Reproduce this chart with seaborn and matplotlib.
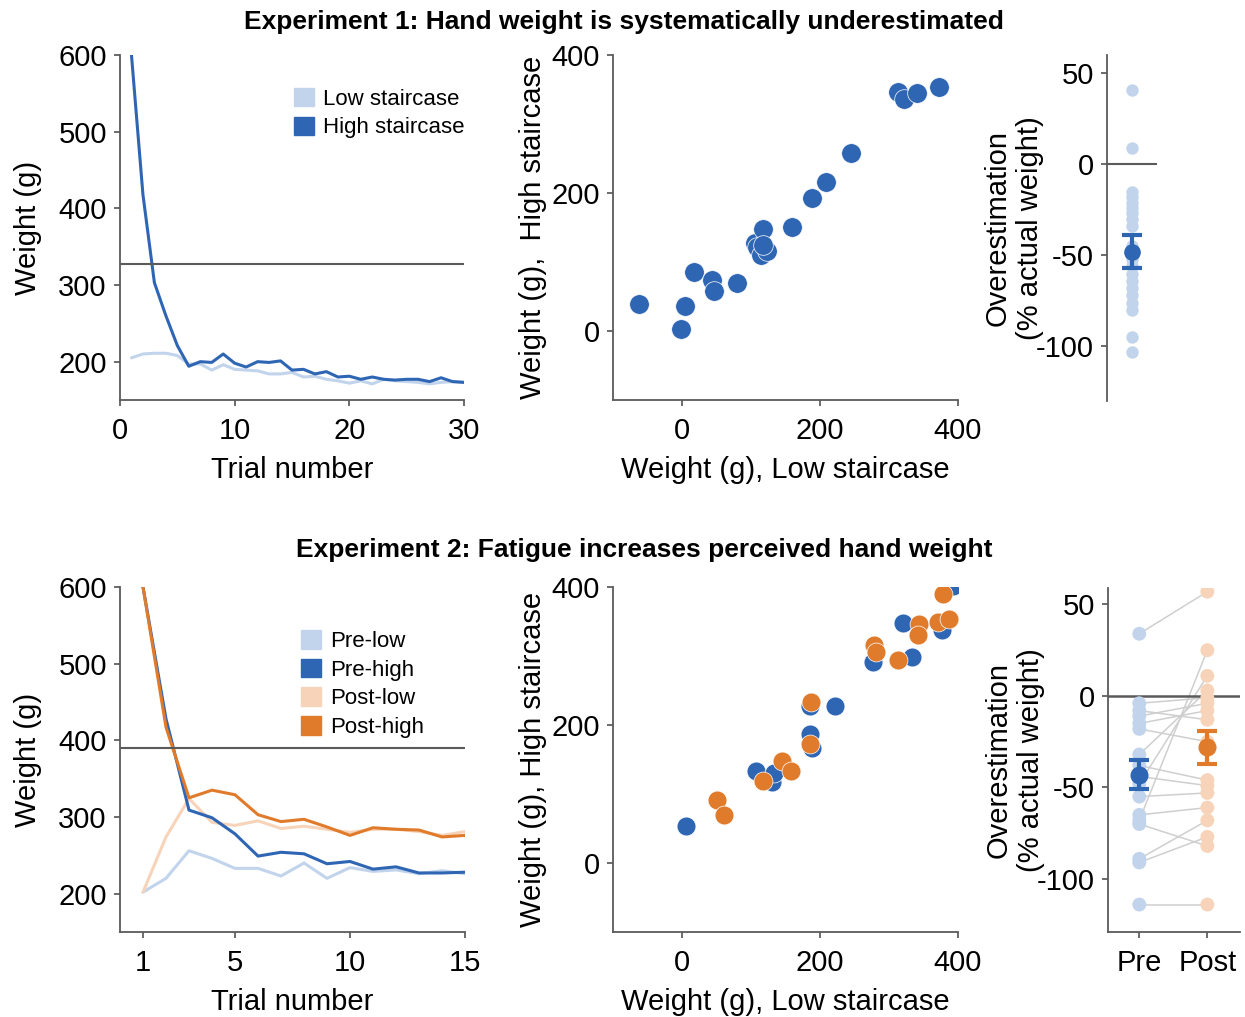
import numpy as np
import pandas as pd
import matplotlib
matplotlib.use('Agg')
import matplotlib.pyplot as plt
import seaborn as sns
from matplotlib.patches import Patch

# colours
dark_blue = '#2f66b4'
light_blue = '#c2d4eb'
dark_orange = '#e07b2c'
light_orange = '#f7d4b9'
grey = '#5a5a5a'

# ---------- Experiment 1 ----------
exp1_trials = list(range(1, 31))
exp1_low = [205, 210, 211, 211, 208, 197, 197, 189, 196, 190, 189, 188, 184, 184, 186,
            180, 181, 177, 175, 172, 175, 171, 177, 175, 174, 173, 171, 173, 174, 173]
exp1_high = [600, 418, 303, 260, 221, 194, 200, 199, 210, 198, 193, 200, 199, 201, 189,
             190, 184, 187, 180, 181, 177, 180, 177, 176, 177, 177, 174, 179, 174, 173]
exp1_actual = 328

exp1_sc_low = [-63, -2, 5, 18, 44, 47, 79, 106, 109, 115, 117, 123, 118, 160, 189, 209,
               245, 313, 322, 340, 373]
exp1_sc_high = [39, 3, 36, 85, 74, 58, 70, 128, 122, 110, 148, 116, 125, 151, 193, 216,
                258, 346, 336, 345, 353]

exp1_over = [41, 9, -15, -18, -21, -24, -27, -30, -34, -45, -52, -56, -60, -64, -68, -72,
             -76, -80, -95, -103]
exp1_over_mean = -48
exp1_over_sem = 9

# ---------- Experiment 2 ----------
exp2_trials = list(range(1, 16))
pre_low = [202, 220, 256, 246, 233, 233, 223, 240, 220, 234, 229, 231, 226, 230, 226]
pre_high = [600, 428, 309, 299, 278, 249, 254, 252, 239, 242, 232, 235, 227, 227, 228]
post_low = [202, 274, 324, 293, 289, 295, 285, 288, 284, 280, 284, 284, 281, 276, 281]
post_high = [600, 417, 325, 335, 329, 303, 294, 297, 287, 276, 286, 284, 283, 274, 276]
exp2_actual = 390

pre_sc_low = [6, 107, 130, 133, 185, 185, 188, 222, 277, 321, 333, 377, 393]
pre_sc_high = [53, 134, 117, 131, 228, 187, 167, 228, 291, 348, 299, 338, 401]
post_sc_low = [51, 61, 118, 145, 158, 187, 186, 278, 281, 313, 343, 342, 371, 387, 378]
post_sc_high = [91, 69, 119, 148, 133, 234, 172, 316, 306, 294, 346, 331, 349, 353, 390]

# one entry per participant, same order in both lists
pre_over = [34, -4, -8, -11, -15, -18, -32, -38, -44, -48, -55, -65, -68, -70, -89, -91, -114]
post_over = [57, -1, -13, -4, -8, -25, 3, -46, -49, 11, -53, -61, 25, -82, -68, -77, -114]
pre_mean, pre_sem = -43, 8
post_mean, post_sem = -28, 9

sns.set_theme(style='ticks')
plt.rcParams['font.family'] = ['Liberation Sans', 'DejaVu Sans']
plt.rcParams['axes.unicode_minus'] = False
plt.rcParams['text.color'] = 'black'
plt.rcParams['axes.labelcolor'] = 'black'
plt.rcParams['axes.edgecolor'] = grey
plt.rcParams['axes.linewidth'] = 1.3
plt.rcParams['xtick.color'] = grey
plt.rcParams['ytick.color'] = grey
plt.rcParams['xtick.labelcolor'] = 'black'
plt.rcParams['ytick.labelcolor'] = 'black'
plt.rcParams['xtick.major.size'] = 4
plt.rcParams['ytick.major.size'] = 4
plt.rcParams['xtick.major.pad'] = 8.5
plt.rcParams['ytick.major.pad'] = 5.5

FS = 21
W, H = 1245, 1017
fig = plt.figure(figsize=(12.45, 10.17), dpi=100)


def box(l, t, r, b):
    return [l / W, 1 - b / H, (r - l) / W, (b - t) / H]


def tidy(ax, ypad=4, xpad=8):
    sns.despine(ax=ax)
    ax.tick_params(labelsize=FS)
    ax.xaxis.label.set_size(FS)
    ax.yaxis.label.set_size(FS)
    ax.yaxis.labelpad = ypad
    ax.xaxis.labelpad = xpad


# ----- top left: staircases -----
ax = fig.add_axes(box(120, 55, 464, 400))
df1 = pd.DataFrame({'trial': exp1_trials * 2,
                    'weight': exp1_low + exp1_high,
                    'stair': ['Low staircase'] * 30 + ['High staircase'] * 30})
sns.lineplot(data=df1, x='trial', y='weight', hue='stair',
             palette={'Low staircase': light_blue, 'High staircase': dark_blue},
             linewidth=2.2, legend=False, ax=ax)
ax.axhline(exp1_actual, color=grey, lw=1.5)
ax.set_xlim(0, 30)
ax.set_ylim(150, 600)
ax.set_xticks([0, 10, 20, 30])
ax.set_yticks([200, 300, 400, 500, 600])
ax.set_xlabel('Trial number')
ax.set_ylabel('Weight (g)')
ax.legend(handles=[Patch(color=light_blue, label='Low staircase'),
                   Patch(color=dark_blue, label='High staircase')],
          loc='upper left', bbox_to_anchor=(0.48, 0.93), frameon=False,
          fontsize=16, handlelength=0.9, handleheight=0.9, handletextpad=0.4,
          labelspacing=0.3, borderaxespad=0)
tidy(ax, ypad=12)

# ----- top middle: scatter -----
ax = fig.add_axes(box(613, 55, 958, 400))
sns.scatterplot(x=exp1_sc_low, y=exp1_sc_high, color=dark_blue, s=200,
                edgecolor='white', linewidth=0.5, ax=ax)
ax.set_xlim(-100, 400)
ax.set_ylim(-100, 400)
ax.set_xticks([0, 200, 400])
ax.set_yticks([0, 200, 400])
ax.set_xlabel('Weight (g), Low staircase')
ax.set_ylabel('Weight (g),  High staircase')
tidy(ax, ypad=3)

# ----- top right: overestimation -----
ax = fig.add_axes(box(1107, 55, 1157, 401))
sns.scatterplot(x=[0] * len(exp1_over), y=exp1_over, color=light_blue, s=80,
                linewidth=0, ax=ax)
ax.axhline(0, color=grey, lw=1.5)
ax.errorbar([0], [exp1_over_mean], yerr=[exp1_over_sem], fmt='o', color=dark_blue,
            ms=11, elinewidth=3, capsize=7, capthick=3)
ax.set_xlim(-0.5, 0.5)
ax.set_ylim(-130, 60)
ax.set_yticks([-100, -50, 0, 50])
ax.set_xticks([])
ax.set_ylabel('Overestimation\n(% actual weight)')
tidy(ax, ypad=-6)
ax.spines['bottom'].set_visible(False)

# ----- bottom left: staircases -----
ax = fig.add_axes(box(120, 587, 465, 932))
names = ['Pre-low', 'Post-low', 'Pre-high', 'Post-high']
df2 = pd.DataFrame({'trial': exp2_trials * 4,
                    'weight': pre_low + post_low + pre_high + post_high,
                    'stair': [n for n in names for _ in exp2_trials]})
pal2 = {'Pre-low': light_blue, 'Pre-high': dark_blue,
        'Post-low': light_orange, 'Post-high': dark_orange}
sns.lineplot(data=df2, x='trial', y='weight', hue='stair', hue_order=names,
             palette=pal2, linewidth=2.2, legend=False, ax=ax)
ax.axhline(exp2_actual, color=grey, lw=1.5)
ax.set_xlim(0, 15)
ax.set_ylim(150, 600)
ax.set_xticks([1, 5, 10, 15])
ax.set_yticks([200, 300, 400, 500, 600])
ax.set_xlabel('Trial number')
ax.set_ylabel('Weight (g)')
ax.legend(handles=[Patch(color=pal2[n], label=n)
                   for n in ['Pre-low', 'Pre-high', 'Post-low', 'Post-high']],
          loc='upper left', bbox_to_anchor=(0.5, 0.9), frameon=False,
          fontsize=16, handlelength=0.9, handleheight=0.9, handletextpad=0.4,
          labelspacing=0.3, borderaxespad=0)
tidy(ax, ypad=12)

# ----- bottom middle: scatter -----
ax = fig.add_axes(box(613, 587, 958, 932))
sns.scatterplot(x=pre_sc_low, y=pre_sc_high, color=dark_blue, s=185,
                edgecolor='white', linewidth=0.5, ax=ax)
sns.scatterplot(x=post_sc_low, y=post_sc_high, color=dark_orange, s=185,
                edgecolor='white', linewidth=0.5, ax=ax)
ax.set_xlim(-100, 400)
ax.set_ylim(-100, 400)
ax.set_xticks([0, 200, 400])
ax.set_yticks([0, 200, 400])
ax.set_xlabel('Weight (g), Low staircase')
ax.set_ylabel('Weight (g), High staircase')
tidy(ax, ypad=3)

# ----- bottom right: pre vs post -----
ax = fig.add_axes(box(1108, 588, 1240, 932))
n = len(pre_over)
df3 = pd.DataFrame({'subject': list(range(n)) * 2,
                    'pos': [0] * n + [1] * n,
                    'session': ['Pre'] * n + ['Post'] * n,
                    'value': pre_over + post_over})
sns.lineplot(data=df3, x='pos', y='value', units='subject', estimator=None,
             color='#cfcfcf', linewidth=1.1, ax=ax)
ax.axhline(0, color=grey, lw=1.8)
sns.scatterplot(data=df3, x='pos', y='value', hue='session',
                palette={'Pre': light_blue, 'Post': light_orange}, s=100,
                linewidth=0, legend=False, ax=ax, zorder=3)
ax.errorbar([0], [pre_mean], yerr=[pre_sem], fmt='o', color=dark_blue,
            ms=12, elinewidth=3, capsize=7, capthick=3, zorder=4)
ax.errorbar([1], [post_mean], yerr=[post_sem], fmt='o', color=dark_orange,
            ms=12, elinewidth=3, capsize=7, capthick=3, zorder=4)
ax.set_xlim(-0.46, 1.48)
ax.set_ylim(-129, 59)
ax.set_xticks([0, 1])
ax.set_xticklabels(['Pre', 'Post'])
ax.set_yticks([-100, -50, 0, 50])
ax.set_xlabel('')
ax.set_ylabel('Overestimation\n(% actual weight)')
tidy(ax, ypad=-6)

fig.text(624 / W, 1 - 22 / H, 'Experiment 1: Hand weight is systematically underestimated',
         ha='center', va='center', fontsize=19, fontweight='bold')
fig.text(644 / W, 1 - 550 / H, 'Experiment 2: Fatigue increases perceived hand weight',
         ha='center', va='center', fontsize=19, fontweight='bold')

fig.savefig('out.png', dpi=100)
